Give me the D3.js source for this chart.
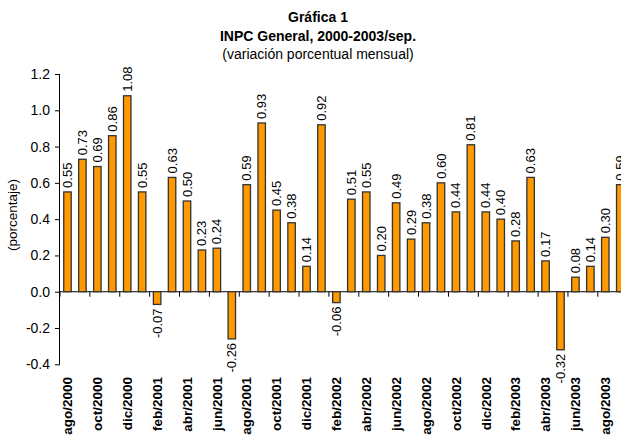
<!DOCTYPE html>
<html>
<head>
<meta charset="utf-8">
<script src="https://cdn.jsdelivr.net/npm/d3@7"></script>
<style>
  body { margin: 0; background: #fff; }
  text { font-family: "Liberation Sans", Arial, sans-serif; fill: #000; }
</style>
</head>
<body>
<div id="chart"></div>
<script>
let months = [
  "ago/2000", "sep/2000", "oct/2000", "nov/2000", "dic/2000",
  "ene/2001", "feb/2001", "mar/2001", "abr/2001", "may/2001", "jun/2001", "jul/2001",
  "ago/2001", "sep/2001", "oct/2001", "nov/2001", "dic/2001",
  "ene/2002", "feb/2002", "mar/2002", "abr/2002", "may/2002", "jun/2002", "jul/2002",
  "ago/2002", "sep/2002", "oct/2002", "nov/2002", "dic/2002",
  "ene/2003", "feb/2003", "mar/2003", "abr/2003", "may/2003", "jun/2003", "jul/2003",
  "ago/2003", "sep/2003",
];

let values = [
  0.55, 0.73, 0.69, 0.86, 1.08,
  0.55, -0.07, 0.63, 0.50, 0.23, 0.24, -0.26,
  0.59, 0.93, 0.45, 0.38, 0.14,
  0.92, -0.06, 0.51, 0.55, 0.20, 0.49, 0.29,
  0.38, 0.60, 0.44, 0.81, 0.44,
  0.40, 0.28, 0.63, 0.17, -0.32, 0.08, 0.14,
  0.30, 0.59,
];

let yTicks = [-0.4, -0.2, 0.0, 0.2, 0.4, 0.6, 0.8, 1.0, 1.2];

let titles = ["Gráfica 1", "INPC General, 2000-2003/sep."];
let subtitle = "(variación porcentual mensual)";
let yLabel = "(porcentaje)";

let data = months.map((m, i) => ({ month: m, value: values[i] }));

let draw = () => {
  let width = 621;
  let height = 439;

  let svg = d3
    .select("#chart")
    .append("svg")
    .attr("width", width)
    .attr("height", height);

  let left = 60;
  let step = 14.94;

  let xScale = d3
    .scaleBand()
    .domain(months)
    .range([left, left + step * months.length])
    .paddingInner(0.5)
    .paddingOuter(0.25);

  let yScale = d3.scaleLinear().domain([-0.4, 1.2]).range([364.3, 74]);

  // titles
  svg
    .append("text")
    .attr("x", 318)
    .attr("y", 22)
    .attr("text-anchor", "middle")
    .style("font-size", "14px")
    .style("font-weight", "bold")
    .text(titles[0]);

  svg
    .append("text")
    .attr("x", 318)
    .attr("y", 41)
    .attr("text-anchor", "middle")
    .style("font-size", "14px")
    .style("font-weight", "bold")
    .text(titles[1]);

  svg
    .append("text")
    .attr("x", 318)
    .attr("y", 59)
    .attr("text-anchor", "middle")
    .style("font-size", "14px")
    .text(subtitle);

  // y axis
  svg
    .append("g")
    .attr("transform", `translate(${left}, 0)`)
    .call(
      d3
        .axisLeft(yScale)
        .tickValues(yTicks)
        .tickSize(5)
        .tickPadding(5)
        .tickFormat((d) => d.toFixed(1))
    )
    .call((g) => g.select(".domain").attr("d", `M-0.5,${yScale(1.2)}V${yScale(-0.4)}`))
    .call((g) => g.selectAll("line, path").attr("stroke", "#000"))
    .call((g) => g.selectAll("text").style("font-size", "14px").style("font-family", "Liberation Sans, Arial"));

  svg
    .append("text")
    .attr("transform", `translate(17, 215) rotate(-90)`)
    .attr("text-anchor", "middle")
    .style("font-size", "13.5px")
    .text(yLabel);

  // x axis at zero
  let zeroY = yScale(0);
  let x0 = xScale.range()[0];
  let x1 = xScale.range()[1];

  svg
    .append("line")
    .attr("x1", x0)
    .attr("x2", x1)
    .attr("y1", zeroY)
    .attr("y2", zeroY)
    .attr("stroke", "#000");

  svg
    .selectAll(".xtick")
    .data(months.filter((d, i) => i % 2 === 0))
    .enter()
    .append("line")
    .attr("class", "xtick")
    .attr("x1", (d, i) => x0 + i * 2 * xScale.step())
    .attr("x2", (d, i) => x0 + i * 2 * xScale.step())
    .attr("y1", zeroY)
    .attr("y2", zeroY + 5)
    .attr("stroke", "#000");

  // x tick labels, every second month
  svg
    .selectAll(".xlabel")
    .data(months.filter((d, i) => i % 2 === 0))
    .enter()
    .append("text")
    .attr("class", "xlabel")
    .attr(
      "transform",
      (d) => `translate(${xScale(d) + xScale.bandwidth() / 2}, 377) rotate(-90)`
    )
    .attr("dy", "0.35em")
    .attr("text-anchor", "end")
    .style("font-size", "13.5px")
    .style("font-weight", "bold")
    .text((d) => d);

  // bars
  svg
    .selectAll(".bar")
    .data(data)
    .enter()
    .append("rect")
    .attr("class", "bar")
    .attr("x", (d) => xScale(d.month))
    .attr("y", (d) => yScale(Math.max(0, d.value)))
    .attr("width", xScale.bandwidth())
    .attr("height", (d) => Math.abs(yScale(d.value) - zeroY))
    .attr("fill", "#ff9900")
    .attr("stroke", "#333")
    .attr("stroke-width", 1.3);

  // value labels
  svg
    .selectAll(".vlabel")
    .data(data)
    .enter()
    .append("text")
    .attr("class", "vlabel")
    .attr("transform", (d) => {
      let cx = xScale(d.month) + xScale.bandwidth() / 2;
      let cy = d.value >= 0 ? yScale(d.value) - 4 : yScale(d.value) + 4;
      return `translate(${cx}, ${cy}) rotate(-90)`;
    })
    .attr("dy", "0.35em")
    .attr("text-anchor", (d) => (d.value >= 0 ? "start" : "end"))
    .style("font-size", "13px")
    .text((d) => d.value.toFixed(2));
};

draw();
</script>
</body>
</html>
